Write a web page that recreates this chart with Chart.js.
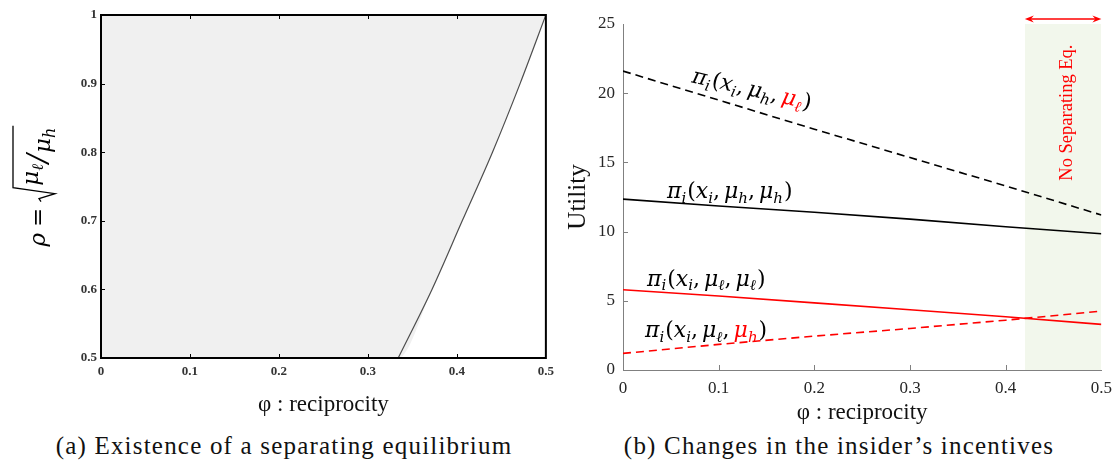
<!DOCTYPE html>
<html>
<head>
<meta charset="utf-8">
<script src="https://cdn.jsdelivr.net/npm/chart.js@4.4.1/dist/chart.umd.min.js"></script>
<style>
  body { margin: 0; background: #fff; width: 1120px; height: 466px; overflow: hidden; position: relative; }
  .panel { position: absolute; top: 0; width: 560px; height: 430px; }
  .cap { position: absolute; top: 431px; font: 25px "Liberation Serif", serif; line-height: 30px; color: #111;
         white-space: nowrap; transform: translateX(-50%); letter-spacing: 1.2px; }
</style>
</head>
<body>
<div class="panel" style="left:0"><canvas id="left"></canvas></div>
<div class="panel" style="left:560px"><canvas id="right"></canvas></div>
<div class="cap" style="left:284px">(a) Existence of a separating equilibrium</div>
<div class="cap" style="left:839px">(b) Changes in the insider’s incentives</div>
<script>
"use strict";

const phiTicks = [0, 0.1, 0.2, 0.3, 0.4, 0.5];
const phiTickLabels = ["0", "0.1", "0.2", "0.3", "0.4", "0.5"];

// (a) boundary of the separating region
const rhoTicks = [0.5, 0.6, 0.7, 0.8, 0.9, 1];
const rhoTickLabels = ["0.5", "0.6", "0.7", "0.8", "0.9", "1"];
const boundaryPhi = [0.334, 0.372, 0.406, 0.44, 0.471, 0.5];
const boundaryRho = [0.5, 0.6, 0.7, 0.8, 0.9, 1];

// (b) insider's utility
const utilityTicks = [0, 5, 10, 15, 20, 25];
const utilityTickLabels = ["0", "5", "10", "15", "20", "25"];
const phiGrid = [0, 0.1, 0.2, 0.3, 0.4, 0.5];
const highAsLow = [21.6, 19.5, 17.4, 15.35, 13.3, 11.2];
const highAsHigh = [12.35, 11.85, 11.4, 10.9, 10.35, 9.85];
const lowAsLow = [5.8, 5.35, 4.85, 4.35, 3.85, 3.3];
const lowAsHigh = [1.2, 1.85, 2.45, 3.0, 3.6, 4.25];
const noSepRange = [0.42, 0.5];

const serif = "'Liberation Serif', 'Times New Roman', serif";
const mathFont = "'DejaVu Serif', serif";
const RED = "#ff0000";

function points(xs, ys) {
  return xs.map((x, i) => ({ x: x, y: ys[i] }));
}

function fixedTicks(values) {
  return (scale) => {
    scale.ticks = values.map((v) => ({ value: v }));
  };
}

// draws a run of math parts, subscripts lowered and smaller
function drawMath(ctx, parts, size) {
  let x = 0;
  ctx.textBaseline = "alphabetic";
  ctx.textAlign = "left";
  for (const p of parts) {
    const s = p.sub ? Math.round(size * 0.68) : size;
    ctx.font = (p.it ? "italic " : "") + s + "px " + mathFont;
    ctx.fillStyle = p.c || "#000";
    ctx.fillText(p.t, x, p.sub ? size * 0.22 : 0);
    x += ctx.measureText(p.t).width + (p.gap || 0);
  }
  return x;
}

function piParts(first, second, secondColor) {
  return [
    { t: "π", it: 1 }, { t: "i", it: 1, sub: 1, gap: 1 }, { t: "(" },
    { t: "x", it: 1 }, { t: "i", it: 1, sub: 1 }, { t: ",", gap: 4 },
    { t: "μ", it: 1 }, { t: first, it: 1, sub: 1 }, { t: ",", gap: 4 },
    { t: "μ", it: 1, c: secondColor }, { t: second, it: 1, sub: 1, c: secondColor, gap: 1 }, { t: ")" }
  ];
}

const insideTicks = {
  id: "insideTicks",
  afterDraw(chart, args, opts) {
    const { ctx, chartArea: a, scales: { x, y } } = chart;
    ctx.save();
    ctx.strokeStyle = opts.color;
    ctx.lineWidth = 1;
    ctx.beginPath();
    x.ticks.forEach((t) => {
      const px = Math.round(x.getPixelForValue(t.value)) + 0.5;
      if (px <= a.left + 2 || px >= a.right - 2) return;
      ctx.moveTo(px, a.bottom);
      ctx.lineTo(px, a.bottom - opts.length);
      if (opts.mirror) {
        ctx.moveTo(px, a.top);
        ctx.lineTo(px, a.top + opts.length);
      }
    });
    y.ticks.forEach((t) => {
      const py = Math.round(y.getPixelForValue(t.value)) + 0.5;
      if (py <= a.top + 2 || py >= a.bottom - 2) return;
      ctx.moveTo(a.left, py);
      ctx.lineTo(a.left + opts.length, py);
    });
    ctx.stroke();
    ctx.restore();
  }
};

const boxFrame = {
  id: "boxFrame",
  afterDraw(chart) {
    const { ctx, chartArea: a } = chart;
    ctx.save();
    ctx.strokeStyle = "#000";
    ctx.lineWidth = 2;
    ctx.strokeRect(a.left, a.top, a.right - a.left, a.bottom - a.top);
    ctx.restore();
  }
};

// rho = sqrt(mu_l / mu_h), drawn rotated
const rhoTitle = {
  id: "rhoTitle",
  afterDraw(chart) {
    const { ctx, chartArea: a } = chart;
    const size = 23;
    ctx.save();
    ctx.translate(45, (a.top + a.bottom) / 2 + 60);
    ctx.rotate(-Math.PI / 2);
    ctx.fillStyle = "#000";
    let x = drawMath(ctx, [{ t: "ρ", it: 1, gap: 6 }, { t: "=", gap: 6 }], size);
    // radical sign
    ctx.strokeStyle = "#000";
    ctx.lineWidth = 1.3;
    ctx.beginPath();
    ctx.moveTo(x, -4);
    ctx.lineTo(x + 3, -6);
    ctx.lineTo(x + 8, 10);
    ctx.lineTo(x + 14, -32);
    const start = x + 16;
    ctx.save();
    ctx.translate(start, -7);
    const w1 = drawMath(ctx, [{ t: "μ", it: 1 }, { t: "ℓ", it: 1, sub: 1 }], size);
    ctx.restore();
    ctx.save();
    ctx.translate(start + w1 + 1, 2);
    ctx.font = "italic 27px " + mathFont;
    ctx.fillText("/", 0, 0);
    const ws = ctx.measureText("/").width;
    ctx.translate(ws + 1, 3);
    const w2 = drawMath(ctx, [{ t: "μ", it: 1 }, { t: "h", it: 1, sub: 1 }], size);
    ctx.restore();
    ctx.lineTo(start + w1 + ws + w2 + 4, -32);
    ctx.stroke();
    ctx.restore();
  }
};

const incentiveNotes = {
  id: "incentiveNotes",
  afterDraw(chart) {
    const { ctx, chartArea: a, scales: { x, y } } = chart;
    ctx.save();
    // double arrow over the no-separating band
    const x0 = x.getPixelForValue(noSepRange[0]);
    const x1 = x.getPixelForValue(noSepRange[1]);
    const ay = a.top - 5;
    ctx.strokeStyle = RED;
    ctx.fillStyle = RED;
    ctx.lineWidth = 1.5;
    ctx.beginPath();
    ctx.moveTo(x0 + 4, ay);
    ctx.lineTo(x1 - 4, ay);
    ctx.stroke();
    [[x0, 1], [x1, -1]].forEach(([px, d]) => {
      ctx.beginPath();
      ctx.moveTo(px, ay);
      ctx.lineTo(px + 9 * d, ay - 3.5);
      ctx.lineTo(px + 6 * d, ay);
      ctx.lineTo(px + 9 * d, ay + 3.5);
      ctx.closePath();
      ctx.fill();
    });
    // band caption
    ctx.save();
    ctx.translate((x0 + x1) / 2 + 9, y.getPixelForValue(18.6));
    ctx.rotate(-Math.PI / 2);
    ctx.font = "18.5px " + serif;
    ctx.textAlign = "center";
    ctx.fillText("No Separating Eq.", 0, 0);
    ctx.restore();

    // curve labels
    const labels = [
      { at: [0.071, 20.8], rot: 13, parts: piParts("h", "ℓ", RED) },
      { at: [0.046, 12.4], rot: 0, parts: piParts("h", "h") },
      { at: [0.025, 6.1], rot: 0, parts: piParts("ℓ", "ℓ") },
      { at: [0.023, 2.35], rot: 0, parts: piParts("ℓ", "h", RED) }
    ];
    labels.forEach((l) => {
      ctx.save();
      ctx.translate(x.getPixelForValue(l.at[0]), y.getPixelForValue(l.at[1]));
      ctx.rotate((l.rot * Math.PI) / 180);
      drawMath(ctx, l.parts, 22);
      ctx.restore();
    });
    ctx.restore();
  }
};

new Chart(document.getElementById("left"), {
  type: "line",
  data: {
    datasets: [
      {
        label: "boundary",
        data: points(boundaryPhi, boundaryRho),
        borderColor: "#4d4d4d",
        borderWidth: 1.2,
        pointRadius: 0,
        cubicInterpolationMode: "monotone",
        fill: false,
        order: 0
      },
      {
        label: "separating region",
        data: [{ x: phiTicks[0], y: rhoTicks[0] }].concat(points(boundaryPhi, boundaryRho)),
        borderWidth: 0,
        pointRadius: 0,
        cubicInterpolationMode: "monotone",
        backgroundColor: "#f0f0f0",
        fill: "end",
        order: 1
      }
    ]
  },
  options: {
    animation: false,
    responsive: true,
    maintainAspectRatio: false,
    events: [],
    layout: { padding: { left: 0, right: 14, top: 15, bottom: 0 } },
    plugins: {
      legend: { display: false },
      tooltip: { enabled: false },
      insideTicks: { color: "#000", length: 4, mirror: true }
    },
    scales: {
      x: {
        type: "linear",
        min: 0,
        max: 0.5,
        afterBuildTicks: fixedTicks(phiTicks),
        afterFit: (s) => { s.height = 72; },
        grid: { display: false, drawTicks: false },
        border: { display: false },
        ticks: {
          padding: 6,
          color: "#333",
          font: { family: serif, size: 13, weight: "bold" },
          callback: (v, i) => phiTickLabels[i]
        },
        title: {
          display: true,
          text: "φ : reciprocity",
          color: "#111",
          font: { family: serif, size: 23 },
          padding: { top: 0, bottom: 11 }
        }
      },
      y: {
        type: "linear",
        min: 0.5,
        max: 1,
        afterBuildTicks: fixedTicks(rhoTicks),
        afterFit: (s) => { s.width = 101; },
        grid: { display: false, drawTicks: false },
        border: { display: false },
        ticks: {
          padding: 4,
          color: "#333",
          font: { family: serif, size: 13, weight: "bold" },
          callback: (v, i) => rhoTickLabels[i]
        }
      }
    }
  },
  plugins: [insideTicks, boxFrame, rhoTitle]
});

new Chart(document.getElementById("right"), {
  type: "line",
  data: {
    datasets: [
      {
        label: "π(x, μh, μℓ)",
        data: points(phiGrid, highAsLow),
        borderColor: "#000",
        borderWidth: 1.6,
        borderDash: [8, 5],
        pointRadius: 0,
        fill: false
      },
      {
        label: "π(x, μh, μh)",
        data: points(phiGrid, highAsHigh),
        borderColor: "#000",
        borderWidth: 1.6,
        pointRadius: 0,
        fill: false
      },
      {
        label: "π(x, μℓ, μℓ)",
        data: points(phiGrid, lowAsLow),
        borderColor: RED,
        borderWidth: 1.6,
        pointRadius: 0,
        fill: false
      },
      {
        label: "π(x, μℓ, μh)",
        data: points(phiGrid, lowAsHigh),
        borderColor: RED,
        borderWidth: 1.6,
        borderDash: [8, 5],
        pointRadius: 0,
        fill: false
      },
      {
        label: "no separating equilibrium",
        data: noSepRange.map((v) => ({ x: v, y: utilityTicks[utilityTicks.length - 1] })),
        borderWidth: 0,
        pointRadius: 0,
        backgroundColor: "#f2f7ec",
        fill: "origin",
        order: 1
      }
    ]
  },
  options: {
    animation: false,
    responsive: true,
    maintainAspectRatio: false,
    events: [],
    layout: { padding: { left: 0, right: 12, top: 24, bottom: 0 } },
    plugins: {
      legend: { display: false },
      tooltip: { enabled: false },
      insideTicks: { color: "#808080", length: 5, mirror: false }
    },
    scales: {
      x: {
        type: "linear",
        min: 0,
        max: 0.5,
        afterBuildTicks: fixedTicks(phiTicks),
        afterFit: (s) => { s.height = 60; },
        grid: { display: false, drawTicks: false },
        border: { display: true, color: "#808080", width: 1 },
        ticks: {
          padding: 8,
          color: "#262626",
          font: { family: serif, size: 17 },
          callback: (v, i) => phiTickLabels[i]
        },
        title: {
          display: true,
          text: "φ : reciprocity",
          color: "#111",
          font: { family: serif, size: 23 },
          padding: { top: 0, bottom: 3 }
        }
      },
      y: {
        type: "linear",
        min: 0,
        max: 25,
        afterBuildTicks: fixedTicks(utilityTicks),
        afterFit: (s) => { s.width = 63; },
        grid: { display: false, drawTicks: false },
        border: { display: true, color: "#808080", width: 1 },
        ticks: {
          padding: 8,
          color: "#262626",
          font: { family: serif, size: 17 },
          callback: (v, i) => utilityTickLabels[i]
        },
        title: {
          display: true,
          text: "Utility",
          color: "#111",
          font: { family: serif, size: 25 },
          padding: { top: 3, bottom: 0 }
        }
      }
    }
  },
  plugins: [insideTicks, incentiveNotes]
});
</script>
</body>
</html>
